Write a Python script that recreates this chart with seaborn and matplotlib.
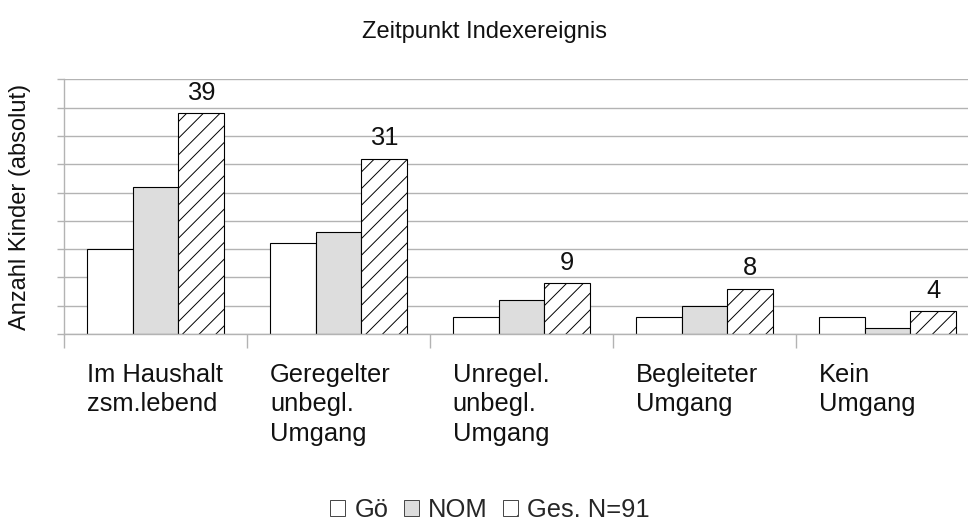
import matplotlib
matplotlib.use("Agg")
import matplotlib.pyplot as plt
import seaborn as sns
import pandas as pd
from matplotlib.patches import Patch
from matplotlib.transforms import blended_transform_factory

categories = ["Im Haushalt\nzsm.lebend", "Geregelter\nunbegl.\nUmgang", "Unregel.\nunbegl.\nUmgang",
              "Begleiteter\nUmgang", "Kein\nUmgang"]
series_names = ["Gö", "NOM", "Ges. N=91"]
goe = [15, 16, 3, 3, 3]
nom = [26, 18, 6, 5, 1]
ges = [39, 31, 9, 8, 4]
y_ticks = list(range(0, 46, 5))

rows = []
for name, vals in zip(series_names, [goe, nom, ges]):
    for c, v in zip(categories, vals):
        rows.append({"Kategorie": c, "Serie": name, "Wert": v})
df = pd.DataFrame(rows)

sns.set_theme(style="white")
plt.rcParams["font.family"] = ["Liberation Sans", "DejaVu Sans"]
plt.rcParams["hatch.linewidth"] = 0.7
plt.rcParams["hatch.color"] = "black"

FS = 18.4
TXT = "#111111"

fig = plt.figure(figsize=(9.68, 5.30), dpi=100)
ax = fig.add_axes([64 / 968, (530 - 334) / 530, 915 / 968, (334 - 79.3) / 530])

colors = ["#ffffff", "#dddddd", "#ffffff"]
sns.barplot(data=df, x="Kategorie", y="Wert", hue="Serie", order=categories,
            hue_order=series_names, palette=colors, saturation=1, width=0.75,
            edgecolor="black", linewidth=0.8, ax=ax, legend=False, errorbar=None)

for bar in ax.containers[2]:
    bar.set_hatch("//")

ax.bar_label(ax.containers[2], labels=[str(v) for v in ges], padding=6, fontsize=FS, color=TXT)

ax.set_ylim(0, 45)
ax.set_xlim(-0.5, len(categories) - 0.5)
ax.set_yticks(y_ticks)
ax.set_yticklabels([])
ax.yaxis.grid(True, color="#b3b3b3", linewidth=1.0)
ax.set_axisbelow(True)
ax.tick_params(axis="y", which="major", length=5, color="#b3b3b3", left=True, width=1)

ax.set_xticks([i - 0.5 for i in range(len(categories) + 1)])
ax.set_xticklabels([])
ax.tick_params(axis="x", which="major", length=10, color="#b3b3b3", bottom=True, width=1)

for s in ["top", "right"]:
    ax.spines[s].set_visible(False)
for s in ["left", "bottom"]:
    ax.spines[s].set_color("#b3b3b3")
    ax.spines[s].set_linewidth(1.0)

ax.set_xlabel("")
ax.set_ylabel("")

trans = blended_transform_factory(ax.transData, ax.transAxes)
for i, c in enumerate(categories):
    ax.text(i - 0.375, -0.112, c, transform=trans, ha="left", va="top", fontsize=FS,
            linespacing=1.31, color=TXT)

fig.text(484 / 968, 1 - 32 / 530, "Zeitpunkt Indexereignis", ha="center", va="center",
         fontsize=17, color=TXT)
fig.text(20 / 968, 1 - 207 / 530, "Anzahl Kinder (absolut)", ha="center", va="center",
         rotation=90, fontsize=17, color=TXT)

handles = [Patch(facecolor=colors[0], edgecolor="#444444", linewidth=0.7),
           Patch(facecolor=colors[1], edgecolor="#444444", linewidth=0.7),
           Patch(facecolor=colors[2], edgecolor="#444444", linewidth=0.7, hatch="/")]
fig.legend(handles, series_names, loc="center", bbox_to_anchor=(490 / 968, 1 - 510 / 530),
           ncol=3, frameon=False, fontsize=FS, handlelength=0.6, handleheight=0.6,
           handletextpad=0.35, columnspacing=0.6)

fig.savefig("out.png", dpi=100)
